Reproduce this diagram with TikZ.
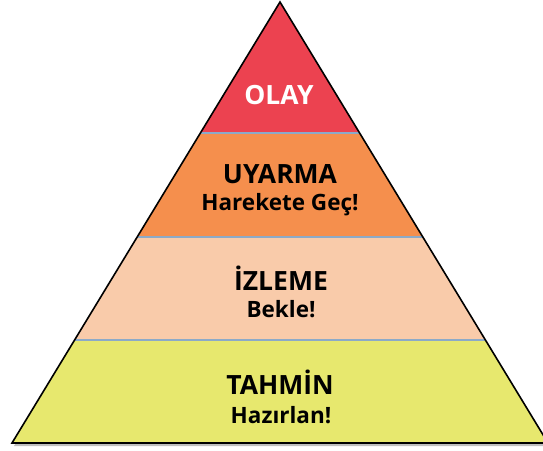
\documentclass[tikz,border=0pt]{standalone}
\usepackage{fontspec}
\setmainfont{Open Sans}
\usetikzlibrary{calc}
\definecolor{layRed}{RGB}{236,66,80}
\definecolor{layOrange}{RGB}{245,143,77}
\definecolor{layPeach}{RGB}{249,203,170}
\definecolor{layYellow}{RGB}{231,232,110}
\definecolor{sepLine}{RGB}{140,170,200}
\tikzset{
  title/.style={font=\bfseries\fontsize{26.5}{29}\selectfont, inner sep=0pt},
  sub/.style={font=\bfseries\fontsize{22.5}{25}\selectfont, inner sep=0pt},
}
\begin{document}
\begin{tikzpicture}[x=1pt,y=-1pt]
\useasboundingbox (0,0) rectangle (543,450);
\clip (0,0) rectangle (543,450);
\coordinate (apex) at (280,2);
\coordinate (bl) at (12,443);
\coordinate (br) at (548,443);
% soft shadow
\fill[black!25] ($(apex)+(2,3)$) -- ($(br)+(2,3)$) -- ($(bl)+(2,3)$) -- cycle;
% layered fill
\begin{scope}
  \clip (apex) -- (br) -- (bl) -- cycle;
  \fill[layRed] (0,0) rectangle (560,133);
  \fill[layOrange] (0,133) rectangle (560,237);
  \fill[layPeach] (0,237) rectangle (560,340);
  \fill[layYellow] (0,340) rectangle (560,450);
  \draw[sepLine, line width=1.2pt] (0,133) -- (560,133) (0,237) -- (560,237) (0,340) -- (560,340);
\end{scope}
\draw[black, line width=1.6pt, line join=miter] (apex) -- (br) -- (bl) -- cycle;
% labels
\node[title, text=white] (olay) at (279,95) {OLAY};
\node[title] (uyarma) at (280,174) {UYARMA};
\node[sub] (uyarmaSub) at (280,205) {Harekete Geç!};
\node[title] (izleme) at (281,278) {İZLEME};
\node[sub] (izlemeSub) at (281,309) {Bekle!};
\node[title] (tahmin) at (280,382) {TAHMİN};
\node[sub] (tahminSub) at (281,415) {Hazırlan!};
\end{tikzpicture}
\end{document}
